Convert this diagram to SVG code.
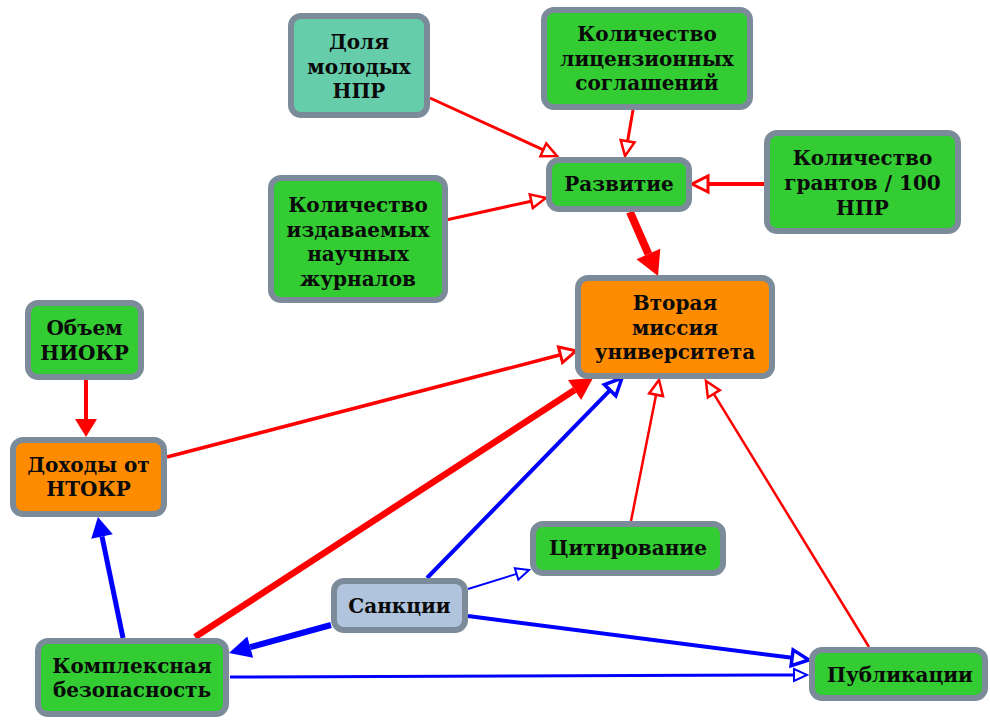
<svg xmlns="http://www.w3.org/2000/svg" width="990" height="720" viewBox="0 0 990 720">
  <style>
    .box { stroke: #7b8b9a; stroke-width: 6; }
    .green { fill: #33cc33; }
    .aqua { fill: #66cdaa; }
    .orange { fill: #ff8c00; }
    .steel { fill: #b0c4de; }
    .lbl { font-family: "DejaVu Serif", "Liberation Serif", serif; font-weight: bold; font-size: 20px; fill: #0a0a0a; text-anchor: middle; }
    .red { stroke: #ff0000; fill: none; }
    .blue { stroke: #0000ff; fill: none; }
  </style>
  <defs>
    <!-- hollow heads (origin at the base of the head) -->
    <marker id="hr" markerUnits="userSpaceOnUse" viewBox="-4 -10 24 20" markerWidth="24" markerHeight="20" refX="0" refY="0" orient="auto" style="overflow:visible">
      <path d="M0,-7 L15,0 L0,7 Z" fill="#fff" stroke="#ff0000" stroke-width="2.5"/>
    </marker>
    <marker id="hrT" markerUnits="userSpaceOnUse" viewBox="-4 -10 24 20" markerWidth="24" markerHeight="20" refX="0" refY="0" orient="auto" style="overflow:visible">
      <path d="M0,-8 L16,0 L0,8 Z" fill="#fff" stroke="#ff0000" stroke-width="3"/>
    </marker>
    <marker id="hb" markerUnits="userSpaceOnUse" viewBox="-4 -10 24 20" markerWidth="24" markerHeight="20" refX="0" refY="0" orient="auto" style="overflow:visible">
      <path d="M0,-6 L13,0 L0,6 Z" fill="#fff" stroke="#0000ff" stroke-width="2"/>
    </marker>
    <marker id="hbT" markerUnits="userSpaceOnUse" viewBox="-4 -10 24 20" markerWidth="24" markerHeight="20" refX="0" refY="0" orient="auto" style="overflow:visible">
      <path d="M0,-8 L17,0 L0,8 Z" fill="#fff" stroke="#0000ff" stroke-width="3.5"/>
    </marker>
    <!-- filled heads -->
    <marker id="frL" markerUnits="userSpaceOnUse" viewBox="0 -14 26 28" markerWidth="26" markerHeight="28" refX="0" refY="0" orient="auto" style="overflow:visible">
      <path d="M0,-13 L24,0 L0,13 Z" fill="#ff0000"/>
    </marker>
    <marker id="frM" markerUnits="userSpaceOnUse" viewBox="0 -14 26 28" markerWidth="26" markerHeight="28" refX="0" refY="0" orient="auto" style="overflow:visible">
      <path d="M0,-12 L22,0 L0,12 Z" fill="#ff0000"/>
    </marker>
    <marker id="frS" markerUnits="userSpaceOnUse" viewBox="0 -14 26 28" markerWidth="26" markerHeight="28" refX="0" refY="0" orient="auto" style="overflow:visible">
      <path d="M0,-11 L18,0 L0,11 Z" fill="#ff0000"/>
    </marker>
    <marker id="fbM" markerUnits="userSpaceOnUse" viewBox="0 -14 26 28" markerWidth="26" markerHeight="28" refX="0" refY="0" orient="auto" style="overflow:visible">
      <path d="M0,-11 L22,0 L0,11 Z" fill="#0000ff"/>
    </marker>
    <marker id="fbS" markerUnits="userSpaceOnUse" viewBox="0 -14 26 28" markerWidth="26" markerHeight="28" refX="0" refY="0" orient="auto" style="overflow:visible">
      <path d="M0,-11 L20,0 L0,11 Z" fill="#0000ff"/>
    </marker>
  </defs>

  <g id="connectors">
    <line class="red" x1="430" y1="98" x2="543.3" y2="149.8" stroke-width="3" marker-end="url(#hr)"/>
    <line class="red" x1="633" y1="110" x2="627.6" y2="141.2" stroke-width="3" marker-end="url(#hr)"/>
    <line class="red" x1="446" y1="220" x2="531.3" y2="201.2" stroke-width="3" marker-end="url(#hr)"/>
    <line class="red" x1="764" y1="184" x2="708" y2="184" stroke-width="4" marker-end="url(#hrT)"/>
    <line class="red" x1="630" y1="212" x2="648.4" y2="254" stroke-width="8" marker-end="url(#frL)"/>
    <line class="red" x1="86" y1="380" x2="86" y2="419" stroke-width="4" marker-end="url(#frS)"/>
    <line class="red" x1="167" y1="457" x2="560.5" y2="354.8" stroke-width="3.5" marker-end="url(#hrT)"/>
    <line class="red" x1="195" y1="637" x2="574.6" y2="390" stroke-width="6.5" marker-end="url(#frM)"/>
    <line class="blue" x1="427" y1="578" x2="610.1" y2="390.2" stroke-width="4" marker-end="url(#hbT)"/>
    <line class="red" x1="631" y1="521" x2="656.1" y2="394.7" stroke-width="2.5" marker-end="url(#hr)"/>
    <line class="red" x1="869" y1="647" x2="713.8" y2="393.8" stroke-width="2.5" marker-end="url(#hr)"/>
    <line class="blue" x1="468" y1="589" x2="516.6" y2="573.9" stroke-width="2" marker-end="url(#hb)"/>
    <line class="blue" x1="468" y1="616" x2="792.1" y2="657.8" stroke-width="4" marker-end="url(#hbT)"/>
    <line class="blue" x1="331" y1="625" x2="250.2" y2="647.2" stroke-width="6" marker-end="url(#fbM)"/>
    <line class="blue" x1="123" y1="638" x2="102" y2="536.6" stroke-width="5" marker-end="url(#fbS)"/>
    <line class="blue" x1="230" y1="677" x2="794" y2="675" stroke-width="3" marker-end="url(#hb)"/>
  </g>

  <g id="dolya-molodyh-npr">
    <rect class="box aqua" x="291" y="16" width="136" height="99" rx="10"/>
    <text class="lbl" x="359" y="49">Доля</text>
    <text class="lbl" x="359" y="73.5">молодых</text>
    <text class="lbl" x="359" y="98">НПР</text>
  </g>

  <g id="licenzii">
    <rect class="box green" x="544" y="10" width="206" height="97" rx="10"/>
    <text class="lbl" x="647" y="41">Количество</text>
    <text class="lbl" x="647" y="65.5">лицензионных</text>
    <text class="lbl" x="647" y="90">соглашений</text>
  </g>

  <g id="razvitie">
    <rect class="box green" x="549" y="160" width="140" height="49" rx="10"/>
    <text class="lbl" x="619" y="191">Развитие</text>
  </g>

  <g id="granty">
    <rect class="box green" x="767" y="133" width="191" height="98" rx="10"/>
    <text class="lbl" x="862.5" y="165">Количество</text>
    <text class="lbl" x="862.5" y="190">грантов / 100</text>
    <text class="lbl" x="862.5" y="215">НПР</text>
  </g>

  <g id="zhurnaly">
    <rect class="box green" x="271" y="178" width="174" height="122" rx="10"/>
    <text class="lbl" x="358" y="212">Количество</text>
    <text class="lbl" x="358" y="236.5">издаваемых</text>
    <text class="lbl" x="358" y="261">научных</text>
    <text class="lbl" x="358" y="285.5">журналов</text>
  </g>

  <g id="vtoraya-missiya">
    <rect class="box orange" x="578" y="278" width="194" height="98" rx="10"/>
    <text class="lbl" x="675" y="310">Вторая</text>
    <text class="lbl" x="675" y="334.5">миссия</text>
    <text class="lbl" x="675" y="359">университета</text>
  </g>

  <g id="obem-niokr">
    <rect class="box green" x="28" y="303" width="113" height="74" rx="10"/>
    <text class="lbl" x="84.5" y="335">Объем</text>
    <text class="lbl" x="84.5" y="360">НИОКР</text>
  </g>

  <g id="dohody">
    <rect class="box orange" x="13" y="440" width="151" height="74" rx="10"/>
    <text class="lbl" x="88.5" y="472">Доходы от</text>
    <text class="lbl" x="88.5" y="496">НТОКР</text>
  </g>

  <g id="citirovanie">
    <rect class="box green" x="533" y="524" width="190" height="49" rx="10"/>
    <text class="lbl" x="628" y="555">Цитирование</text>
  </g>

  <g id="sankcii">
    <rect class="box steel" x="334" y="581" width="131" height="49" rx="10"/>
    <text class="lbl" x="399.5" y="613">Санкции</text>
  </g>

  <g id="kompleksnaya-bezopasnost">
    <rect class="box green" x="38" y="641" width="188" height="73" rx="10"/>
    <text class="lbl" x="132" y="673">Комплексная</text>
    <text class="lbl" x="132" y="697">безопасность</text>
  </g>

  <g id="publikacii">
    <rect class="box green" x="812" y="650" width="173" height="48" rx="10"/>
    <text class="lbl" x="900" y="682">Публикации</text>
  </g>
</svg>
